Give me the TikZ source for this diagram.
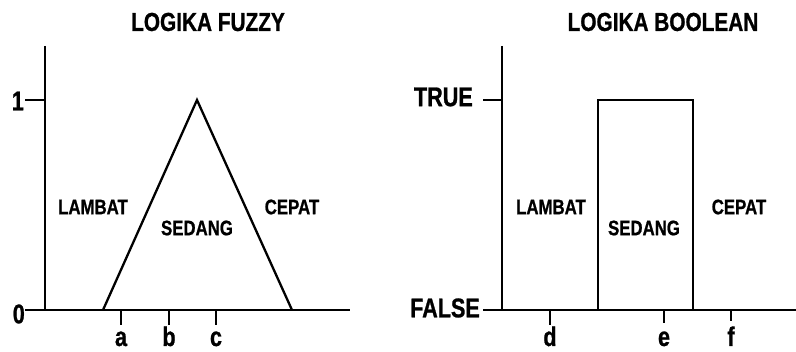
\documentclass[tikz,border=0pt]{standalone}
\usepackage{fontspec}
\setmainfont{Liberation Sans}[FakeStretch=0.8, BoldFeatures={FakeBold=0.9}]
\usetikzlibrary{positioning, calc}

\begin{document}
\begin{tikzpicture}[x=1pt, y=-1pt,
	axis/.style={line width=2.3pt, black},
	curve/.style={line width=2.3pt, black, line join=miter},
	tickmark/.style={line width=2.3pt, black},
	title/.style={font=\bfseries\fontsize{26}{26}\selectfont, inner sep=0pt},
	set/.style={font=\bfseries\fontsize{21}{21}\selectfont, inner sep=0pt},
	val/.style={font=\bfseries\fontsize{27}{27}\selectfont, inner sep=0pt}]
	\useasboundingbox (0,0) rectangle (796,352);
	% logika fuzzy
	\node[title] (fuzzy) at (208,22) {LOGIKA FUZZY};
	\coordinate (f-top) at (45,46);
	\coordinate (f-org) at (45,310);
	\coordinate (f-left) at (25,310);
	\coordinate (f-right) at (350,310);
	\coordinate (f-one) at (45,100);
	\coordinate (f-onel) at (25,100);
	\draw[axis] (f-top) -- (f-org);
	\draw[axis] (f-left) -- (f-right);
	\draw[tickmark] (f-onel) -- (f-one);
	\node[val, anchor=east] (one) at (24,101) {1};
	\node[val, anchor=east] (zero) at (25,314) {0};
	\coordinate (tri-a) at (103,310);
	\coordinate (tri-b) at (197,100);
	\coordinate (tri-c) at (292,310);
	\draw[curve] (tri-a) -- (tri-b) -- (tri-c);
	\foreach \name/\x in {a/121, b/169, c/216} {
		\coordinate (t-\name) at (\x,310);
		\coordinate (u-\name) at (\x,325);
		\draw[tickmark] (t-\name) -- (u-\name);
		\node[val, anchor=base] (l-\name) at (\x,346) {\name};
	}
	\node[set] (f-lambat) at (93,207) {LAMBAT};
	\node[set] (f-sedang) at (197,228) {SEDANG};
	\node[set] (f-cepat) at (292,207) {CEPAT};
	% logika boolean
	\node[title] (boolean) at (663,22) {LOGIKA BOOLEAN};
	\coordinate (b-top) at (502,46);
	\coordinate (b-org) at (502,310);
	\coordinate (b-left) at (483,310);
	\coordinate (b-right) at (796,310);
	\coordinate (b-true) at (502,100);
	\coordinate (b-truel) at (483,100);
	\draw[axis] (b-top) -- (b-org);
	\draw[axis] (b-left) -- (b-right);
	\draw[tickmark] (b-truel) -- (b-true);
	\node[val, anchor=east] (true) at (473,97) {TRUE};
	\node[val, anchor=east] (false) at (480,308) {FALSE};
	\coordinate (box-a) at (598,310);
	\coordinate (box-b) at (598,100);
	\coordinate (box-c) at (693,100);
	\coordinate (box-d) at (693,310);
	\draw[curve] (box-a) -- (box-b) -- (box-c) -- (box-d);
	\foreach \name/\x/\y in {d/550/325, e/664/323, f/731/321} {
		\coordinate (t-\name) at (\x,310);
		\coordinate (u-\name) at (\x,\y);
		\draw[tickmark] (t-\name) -- (u-\name);
		\node[val, anchor=base] (l-\name) at (\x,346) {\name};
	}
	\node[set] (b-lambat) at (551,207) {LAMBAT};
	\node[set] (b-sedang) at (644,228) {SEDANG};
	\node[set] (b-cepat) at (739,207) {CEPAT};
\end{tikzpicture}
\end{document}
